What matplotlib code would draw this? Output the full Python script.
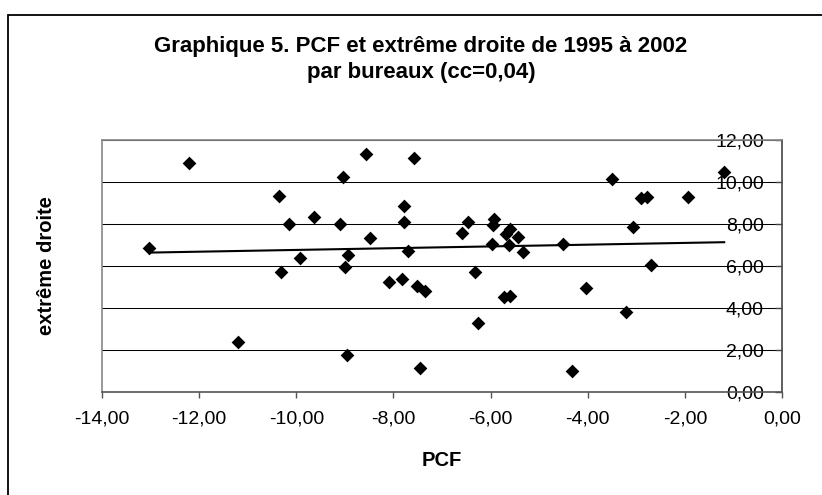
import matplotlib
matplotlib.use('Agg')
import matplotlib.pyplot as plt
from matplotlib.ticker import FuncFormatter, MultipleLocator
from matplotlib.patches import Rectangle
import numpy as np

plt.rcParams['font.family'] = ['Liberation Sans', 'DejaVu Sans']

# PCF (x) and extreme droite (y), one point per bureau
pcf = [-13.03, -12.20, -11.21, -10.35, -10.31, -10.15, -9.92, -9.63, -9.11, -9.03,
       -8.99, -8.93, -8.96, -8.57, -8.49, -8.10, -7.82, -7.79, -7.79, -7.70,
       -7.58, -7.51, -7.45, -7.36, -6.59, -6.46, -6.32, -6.25, -5.97, -5.95,
       -5.93, -5.73, -5.68, -5.63, -5.60, -5.60, -5.43, -5.33, -4.51, -4.33,
       -4.04, -3.50, -3.21, -3.06, -2.90, -2.78, -2.69, -1.94, -1.19]
ext_droite = [6.86, 10.89, 2.36, 9.33, 5.72, 8.00, 6.38, 8.32, 8.01, 10.25,
              5.93, 6.52, 1.75, 11.32, 7.34, 5.26, 5.36, 8.87, 8.11, 6.73,
              11.16, 5.06, 1.15, 4.80, 7.58, 8.11, 5.72, 3.29, 7.03, 7.97,
              8.24, 4.53, 7.52, 6.98, 7.78, 4.55, 7.39, 6.68, 7.03, 0.99,
              4.96, 10.14, 3.81, 7.84, 9.22, 9.30, 6.06, 9.30, 10.49]

W, H = 822, 495
fig = plt.figure(figsize=(W / 100, H / 100), dpi=100)
ax = fig.add_axes([102 / W, 103 / H, 680 / W, 252 / H])

# outer chart frame (runs off the right and bottom of the image)
fig.patches.append(Rectangle((8 / W, -0.05), 1.0, 1 - 15 / H + 0.05,
                             transform=fig.transFigure, fill=False,
                             edgecolor='black', lw=1.3))

x = np.array(pcf)
y = np.array(ext_droite)
ax.scatter(x, y, marker='D', s=49, color='black', zorder=3, linewidths=0)

# linear trend line
a, b = np.polyfit(x, y, 1)
xs = np.array([x.min(), x.max()])
ax.plot(xs, a * xs + b, color='black', lw=1.5, zorder=2)

ax.set_xlim(-14, 0)
ax.set_ylim(0, 12)
ax.xaxis.set_major_locator(MultipleLocator(2))
ax.yaxis.set_major_locator(MultipleLocator(2))
fmt = FuncFormatter(lambda v, p: '{:.2f}'.format(v).replace('.', ','))
ax.xaxis.set_major_formatter(fmt)
ax.yaxis.set_major_formatter(fmt)

# y axis sits at x = 0 (right edge), labels inside the plot
ax.spines['left'].set_position(('data', 0))
ax.spines['right'].set_position(('axes', 0))
ax.spines['left'].set_color('#444444')
ax.spines['bottom'].set_color('#555555')
ax.spines['right'].set_color('#888888')
ax.spines['top'].set_color('#888888')
for s in ax.spines.values():
    s.set_linewidth(1.2)
    s.set_zorder(4)

ax.yaxis.grid(True, color='black', lw=0.75)
ax.set_axisbelow(True)

ax.tick_params(axis='y', left=True, right=False, direction='out', length=5,
               width=1, color='#444444', labelsize=14, pad=8)
ax.tick_params(axis='x', direction='out', length=4, width=1,
               color='#555555', labelsize=14, pad=9)

fig.text(421 / W, 1 - 51.7 / H, 'Graphique 5. PCF et extrême droite de 1995 à 2002',
         ha='center', va='baseline', fontsize=16, fontweight='bold')
fig.text(421 / W, 1 - 78.3 / H, 'par bureaux (cc=0,04)',
         ha='center', va='baseline', fontsize=16, fontweight='bold')
fig.text(47 / W, 1 - 266 / H, 'extrême droite', rotation=90, ha='center',
         va='center', fontsize=14.5, fontweight='bold')
fig.text(442 / W, 1 - 460 / H, 'PCF', ha='center', va='center',
         fontsize=14.5, fontweight='bold')

fig.savefig('out.png', dpi=100)
